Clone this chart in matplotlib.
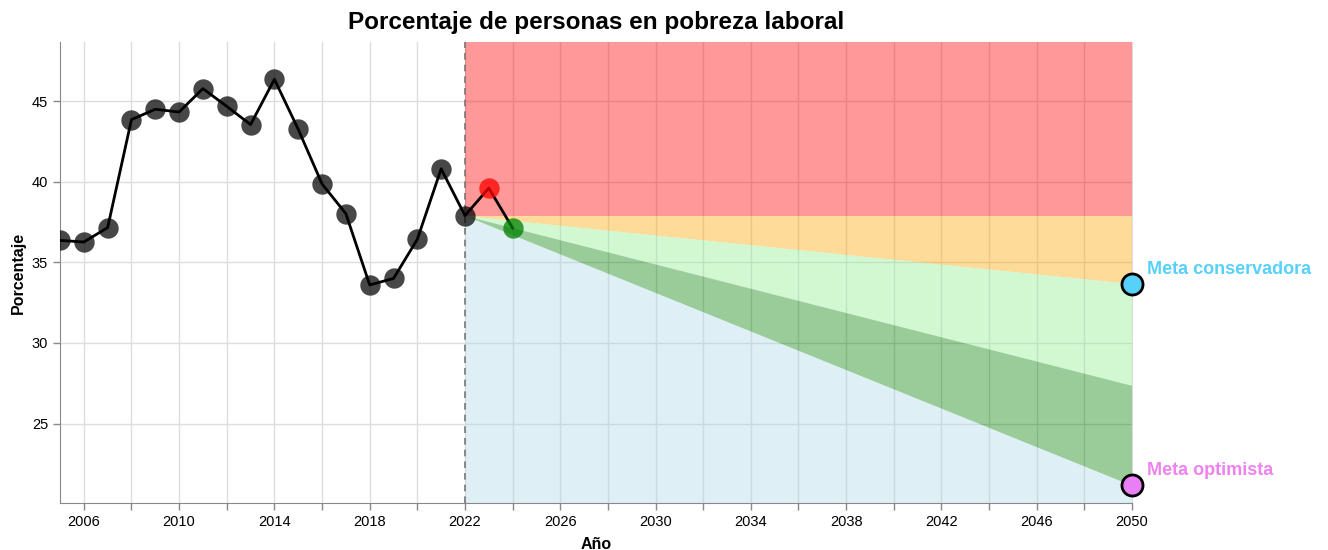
import numpy as np
import matplotlib.pyplot as plt

plt.rcParams['font.family'] = ['Liberation Sans', 'DejaVu Sans']

# serie historica
years = list(range(2005, 2025))
values = [36.36, 36.26, 37.15, 43.85, 44.49, 44.32, 45.77, 44.67, 43.54, 46.35,
          43.25, 39.86, 38.02, 33.6, 34.0, 36.43, 40.8, 37.9, 39.6, 37.13]
n_black = 18  # 2005-2022 en gris, 2023 rojo, 2024 verde

# metas a 2050
base_year = 2022
base_value = 37.9
end_year = 2050
meta_conservadora = 33.68
meta_media = 27.37
meta_optimista = 21.17

ymin, ymax = 20.08, 48.66

fig = plt.figure(figsize=(13.28, 5.5), dpi=100)
ax = fig.add_axes([60/1328, (550-503)/550, (1132-60)/1328, (503-42)/550])

# bandas
xs = np.array([base_year, end_year])
flat = np.array([base_value, base_value])
cons = np.array([base_value, meta_conservadora])
med = np.array([base_value, meta_media])
opt = np.array([base_value, meta_optimista])
ax.fill_between(xs, flat, ymax, color='red', alpha=0.4, lw=0, zorder=2)
ax.fill_between(xs, cons, flat, color='orange', alpha=0.4, lw=0, zorder=2)
ax.fill_between(xs, med, cons, color='#90ee90', alpha=0.4, lw=0, zorder=2)
ax.fill_between(xs, opt, med, color='green', alpha=0.4, lw=0, zorder=2)
ax.fill_between(xs, ymin, opt, color='lightblue', alpha=0.4, lw=0, zorder=2)

ax.axvline(base_year, color='#777777', lw=1.2, ls=(0, (4, 3)), zorder=3)

ax.plot(years, values, color='black', lw=2, zorder=4)
ax.scatter(years[:n_black], values[:n_black], s=215, color='black', alpha=0.72, lw=0, zorder=5)
ax.scatter(years[n_black], values[n_black], s=215, color='red', alpha=0.75, lw=0, zorder=5)
ax.scatter(years[n_black + 1], values[n_black + 1], s=215, color='green', alpha=0.75, lw=0, zorder=5)

ax.scatter([end_year], [meta_conservadora], s=230, color='#57d1fb', edgecolor='black', lw=2,
           zorder=6, clip_on=False)
ax.scatter([end_year], [meta_optimista], s=230, color='#e97ff5', edgecolor='black', lw=2,
           zorder=6, clip_on=False)
ax.annotate('Meta conservadora', (end_year, meta_conservadora), xytext=(11, 10.5),
            textcoords='offset points', color='#57d1fb', fontsize=13, fontweight='bold',
            va='center', ha='left')
ax.annotate('Meta optimista', (end_year, meta_optimista), xytext=(11, 10.5),
            textcoords='offset points', color='#ee82ee', fontsize=13, fontweight='bold',
            va='center', ha='left')

ax.set_xlim(2005, 2050)
ax.set_ylim(ymin, ymax)
ax.set_xticks(range(2006, 2051, 2))
ax.set_xticklabels([str(y) if (y - 2006) % 4 == 0 else '' for y in range(2006, 2051, 2)])
ax.set_yticks([25, 30, 35, 40, 45])
ax.grid(True, color='#dddddd', lw=1)
ax.set_axisbelow(True)

ax.spines['top'].set_visible(False)
ax.spines['right'].set_color('#dddddd')
ax.spines['left'].set_color('#888888')
ax.spines['bottom'].set_color('#888888')
ax.tick_params(colors='#888888', labelcolor='black', labelsize=10.5, length=5, width=1)

ax.set_xlabel('Año', fontsize=11.5, fontweight='bold', labelpad=6)
ax.set_ylabel('Porcentaje', fontsize=11.5, fontweight='bold', labelpad=4.5)
ax.set_title('Porcentaje de personas en pobreza laboral', fontsize=17.5, fontweight='bold', pad=9)

fig.savefig('out.png', dpi=100)
